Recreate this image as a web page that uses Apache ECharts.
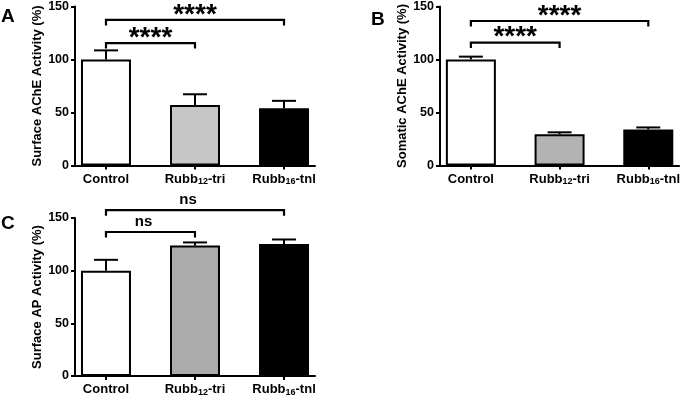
<!DOCTYPE html>
<html>
<head>
<meta charset="utf-8">
<script src="https://cdn.jsdelivr.net/npm/echarts@6/dist/echarts.min.js"></script>
<style>
html,body{margin:0;padding:0;background:#fff;}
#chart{width:683px;height:401px;}
</style>
</head>
<body>
<div id="chart"></div>
<script>
// ---- Data ----
const categories = ['Control', 'Rubb12-tri', 'Rubb16-tnl'];
const tickLabels = ['{b|Control}', '{b|Rubb}{s|12}{b|-tri}', '{b|Rubb}{s|16}{b|-tnl}'];
const yTicks = [0, 50, 100, 150];

const meansA = [100, 57, 54];
const errA = [8.6, 10.2, 7];
const meansB = [100, 29.5, 34];
const errB = [2.7, 1.8, 1.9];
const meansC = [100, 124, 125.3];
const errC = [10.3, 2.8, 4.3];

// brackets: [fromIndex, level, toIndex]
const bracketsA = [[0, 137.3, 2], [0, 115.5, 1]];
const bracketLabelsA = ['****', '****'];
const bracketsB = [[0, 136.3, 2], [0, 116, 1]];
const bracketLabelsB = ['****', '****'];
const bracketsC = [[0, 157.4, 2], [0, 136.7, 1]];
const bracketLabelsC = ['ns', 'ns'];

const titleA = 'Surface AChE Activity (%)';
const titleB = 'Somatic AChE Activity (%)';
const titleC = 'Surface AP Activity (%)';
const panelLetters = ['A', 'B', 'C'];

// ---- Styling ----
const FONT = '"Liberation Sans", Arial, Helvetica, sans-serif';
const barColors = [
  ['#ffffff', '#c6c6c6', '#000000'],
  ['#ffffff', '#b3b3b3', '#000000'],
  ['#ffffff', '#ababab', '#000000']
];
const grids = [
  {left: 75, top: 6, width: 240, height: 159.5},
  {left: 440, top: 6.5, width: 240, height: 159},
  {left: 75, top: 218, width: 240, height: 158}
];
const XMIN = -0.348, XMAX = 2.348;

function xAxisFor(i) {
  return {
    type: 'value', gridIndex: i, min: XMIN, max: XMAX,
    splitLine: {show: false},
    axisLine: {show: true, onZero: false, lineStyle: {color: '#000', width: 2}},
    axisTick: {show: true, customValues: [0, 1, 2], length: 4, lineStyle: {color: '#000', width: 2}},
    axisLabel: {
      show: true, customValues: [0, 1, 2], margin: 7,
      formatter: v => tickLabels[Math.round(v)],
      color: '#000', fontFamily: FONT, fontWeight: 'bold', fontSize: 13,
      rich: {
        b: {fontFamily: FONT, fontWeight: 'bold', fontSize: 13, lineHeight: 14, verticalAlign: 'top', color: '#000'},
        s: {fontFamily: FONT, fontWeight: 'bold', fontSize: 9, lineHeight: 2, verticalAlign: 'bottom', color: '#000'}
      }
    }
  };
}
function yAxisFor(i, name) {
  return {
    type: 'value', gridIndex: i, min: 0, max: 150, interval: 50,
    name: name, nameLocation: 'middle', nameGap: 30,
    nameTextStyle: {color: '#000', fontFamily: FONT, fontWeight: 'bold', fontSize: 13},
    splitLine: {show: false},
    axisLine: {show: true, onZero: false, lineStyle: {color: '#000', width: 2}},
    axisTick: {show: true, length: 4, lineStyle: {color: '#000', width: 2}},
    axisLabel: {color: '#000', fontFamily: FONT, fontWeight: 'bold', fontSize: 12.5, margin: 6,
      formatter: v => (yTicks.indexOf(v) >= 0 ? String(v) : '')}
  };
}
function barSeries(i, means) {
  return {
    type: 'bar', xAxisIndex: i, yAxisIndex: i, barWidth: 50, z: 2,
    data: means.map((m, k) => ({value: [k, m], itemStyle: {color: barColors[i][k]}})),
    itemStyle: {borderColor: '#000', borderWidth: 2},
    emphasis: {disabled: true}, silent: true
  };
}
function errSeries(i, means, errs) {
  return {
    type: 'custom', xAxisIndex: i, yAxisIndex: i, z: 3, silent: true,
    encode: {x: 0, y: 1},
    data: means.map((m, k) => [k, m, errs[k]]),
    renderItem: function (params, api) {
      const x = api.value(0), m = api.value(1), e = api.value(2);
      const p0 = api.coord([x, m]);
      const p1 = api.coord([x, m + e]);
      return {type: 'group', children: [
        {type: 'line', shape: {x1: p0[0], y1: p0[1], x2: p1[0], y2: p1[1]}, style: {stroke: '#000', lineWidth: 2}},
        {type: 'line', shape: {x1: p1[0] - 12, y1: p1[1], x2: p1[0] + 12, y2: p1[1]}, style: {stroke: '#000', lineWidth: 2}}
      ]};
    }
  };
}
function bracketSeries(i, brackets, labels, isStars, dx) {
  return {
    type: 'custom', xAxisIndex: i, yAxisIndex: i, z: 4, clip: false, silent: true,
    encode: {x: 0, y: 1},
    data: brackets,
    renderItem: function (params, api) {
      const a = api.coord([api.value(0), api.value(1)]);
      const b = api.coord([api.value(2), api.value(1)]);
      const lbl = labels[params.dataIndex];
      return {type: 'group', children: [
        {type: 'polyline', shape: {points: [[a[0], a[1] + 5.5], [a[0], a[1]], [b[0], b[1]], [b[0], b[1] + 5.5]]},
          style: {stroke: '#000', lineWidth: 2.2, fill: null}},
        {type: 'text', x: (a[0] + b[0]) / 2 + dx, y: a[1] + (isStars ? 9 : -3),
          style: {text: lbl, fill: '#000', fontFamily: FONT, fontWeight: 'bold',
            fontSize: isStars ? 28 : 15, align: 'center', verticalAlign: 'bottom'}}
      ]};
    }
  };
}

const chart = echarts.init(document.getElementById('chart'), null, {renderer: 'canvas'});
chart.setOption({
  animation: false,
  backgroundColor: '#fff',
  grid: grids.map(g => Object.assign({containLabel: false}, g)),
  xAxis: [xAxisFor(0), xAxisFor(1), xAxisFor(2)],
  yAxis: [yAxisFor(0, titleA), yAxisFor(1, titleB), yAxisFor(2, titleC)],
  graphic: [
    {type: 'text', left: 1, top: 7, style: {text: panelLetters[0], fontFamily: FONT, fontWeight: 'bold', fontSize: 19, fill: '#000'}},
    {type: 'text', left: 371, top: 10, style: {text: panelLetters[1], fontFamily: FONT, fontWeight: 'bold', fontSize: 19, fill: '#000'}},
    {type: 'text', left: 1, top: 214, style: {text: panelLetters[2], fontFamily: FONT, fontWeight: 'bold', fontSize: 19, fill: '#000'}}
  ],
  series: [
    barSeries(0, meansA), errSeries(0, meansA, errA), bracketSeries(0, bracketsA, bracketLabelsA, true, 0),
    barSeries(1, meansB), errSeries(1, meansB, errB), bracketSeries(1, bracketsB, bracketLabelsB, true, 0),
    barSeries(2, meansC), errSeries(2, meansC, errC), bracketSeries(2, bracketsC, bracketLabelsC, false, -7)
  ]
});
</script>
</body>
</html>
